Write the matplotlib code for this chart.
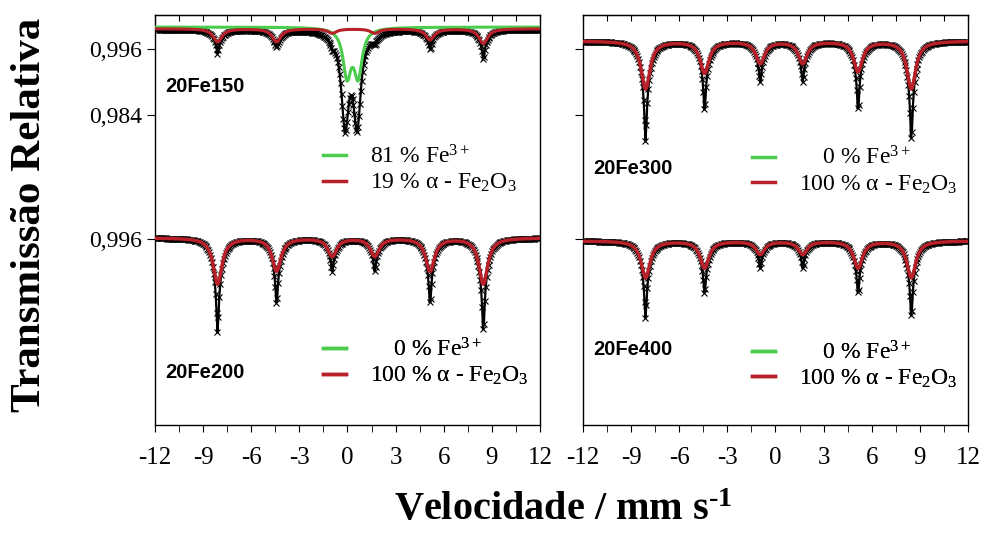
import numpy as np
import matplotlib
matplotlib.use('Agg')
import matplotlib.pyplot as plt
from matplotlib.lines import Line2D
from matplotlib.ticker import MultipleLocator

plt.rcParams['font.family'] = 'Liberation Serif'
plt.rcParams['mathtext.fontset'] = 'custom'
plt.rcParams['mathtext.rm'] = 'Liberation Serif'
plt.rcParams['mathtext.it'] = 'Liberation Serif:italic'
plt.rcParams['mathtext.bf'] = 'Liberation Serif:bold'
plt.rcParams['axes.unicode_minus'] = False

# velocidade dos canais (mm/s)
vel = np.linspace(-12, 12, 420)

# posicoes das linhas do sexteto (hematita) e do dubleto Fe3+
sext_pos = [-8.1, -4.42, -0.95, 1.7, 5.15, 8.47]
doub_pos_data = [-0.15, 0.6]
doub_pos_fit = [-0.03, 0.66]

# linha de base de cada espectro
base_150 = 0.9996
base_200 = 0.9962
base_300 = 0.99745
base_400 = 0.99564
offset = 0.0346          # deslocamento dos espectros de baixo

# profundidades (ajuste = vermelho, dados = preto)
fit_150 = [0.0024, 0.0024, 0.0008, 0.0008, 0.0020, 0.0027]
data_150 = [0.0044, 0.0031, 0.0015, 0.0015, 0.0035, 0.0055]
fe3_fit_150 = 0.0085
fe3_data_150 = 0.0166

fit_200 = [0.0084, 0.0060, 0.0033, 0.0033, 0.0060, 0.0084]
data_200 = [0.0172, 0.0120, 0.0060, 0.0060, 0.0120, 0.0172]

fit_300 = [0.0087, 0.0058, 0.0040, 0.0040, 0.0055, 0.0087]
data_300 = [0.0182, 0.0127, 0.0073, 0.0073, 0.0127, 0.0182]

fit_400 = [0.0067, 0.0049, 0.0024, 0.0024, 0.0049, 0.0067]
data_400 = [0.0140, 0.0096, 0.0049, 0.0049, 0.0096, 0.0140]

w_fit = 0.33
w_spike = 0.08

legend_150 = ['81 % Fe$^{3+}$', '19 % \u03b1 - Fe$_2$O$_3$']
legend_100 = ['    0 % Fe$^{3+}$', '100 % \u03b1 - Fe$_2$O$_3$']

green = '#4ccc4c'
red = '#b8202a'


def lor(x, pos, depth, w):
    y = np.zeros_like(x)
    for p, d in zip(pos, depth):
        y += d / (1 + ((x - p) / w) ** 2)
    return y


def sextet(base, fit, data):
    fit_curve = base - lor(vel, sext_pos, fit, w_fit)
    extra = [d - f for d, f in zip(data, fit)]
    data_curve = fit_curve - lor(vel, sext_pos, extra, w_spike)
    return fit_curve, data_curve


def add_legend(ax, labels, x, y):
    handles = [Line2D([], [], color=green, lw=2.5),
               Line2D([], [], color=red, lw=2.5)]
    leg = ax.legend(handles, labels, loc='upper left', bbox_to_anchor=(x, y),
                    frameon=False, fontsize=17, handlelength=1.0,
                    handletextpad=1.0, labelspacing=0.15, borderpad=0,
                    borderaxespad=0)
    ax.add_artist(leg)


def draw_data(ax, y):
    ax.plot(vel, y, color='black', lw=1.6, zorder=2)
    ax.plot(vel, y, ls='none', marker='x', ms=5, mew=0.8, color='black', zorder=2)


fig = plt.figure(figsize=(9.83, 5.33), dpi=100)
ax1 = fig.add_axes([0.1577, 0.2026, 0.3916, 0.7693])
ax2 = fig.add_axes([0.5931, 0.2026, 0.3916, 0.7693])

# 20Fe150
fe3_curve = 1.0 - lor(vel, doub_pos_fit, [fe3_fit_150] * 2, 0.3)
hem_fit, _ = sextet(base_150 + 0.0001, fit_150, fit_150)
_, sext_data = sextet(base_150, fit_150, data_150)
d150 = sext_data - lor(vel, doub_pos_data, [fe3_data_150] * 2, 0.28)
draw_data(ax1, d150)
ax1.plot(vel, fe3_curve, color=green, lw=2.2, zorder=3)
ax1.plot(vel, hem_fit, color=red, lw=2.2, zorder=3)

# 20Fe200
f200, d200 = sextet(base_200, fit_200, data_200)
draw_data(ax1, d200 - offset)
ax1.plot(vel, f200 - offset, color=red, lw=2.5, zorder=3)

# 20Fe300
f300, d300 = sextet(base_300, fit_300, data_300)
draw_data(ax2, d300)
ax2.plot(vel, f300, color=red, lw=2.5, zorder=3)

# 20Fe400
f400, d400 = sextet(base_400, fit_400, data_400)
draw_data(ax2, d400 - offset)
ax2.plot(vel, f400 - offset, color=red, lw=2.5, zorder=3)

for ax in (ax1, ax2):
    ax.set_xlim(-12, 12)
    ax.set_ylim(0.9275, 1.0022)
    ax.xaxis.set_major_locator(MultipleLocator(3))
    ax.xaxis.set_minor_locator(MultipleLocator(1.5))
    ax.tick_params(axis='x', which='both', direction='out', length=5,
                   top=False, labelsize=18, pad=11)
    ax.tick_params(axis='y', direction='out', length=6, labelsize=17, right=False)
    ax.set_yticks([0.996, 0.984, 0.996 - offset])
    for s in ax.spines.values():
        s.set_linewidth(1.0)
    # ticks internos no topo
    sec = ax.secondary_xaxis('top')
    sec.xaxis.set_major_locator(MultipleLocator(1.5))
    sec.tick_params(direction='in', length=4, labeltop=False)

ax1.set_yticklabels(['0,996', '0,984', '0,996'])
ax2.set_yticklabels([])

names = [(ax1, '20Fe150', 0.826), (ax1, '20Fe200', 0.127),
         (ax2, '20Fe300', 0.625), (ax2, '20Fe400', 0.183)]
for ax, name, yy in names:
    ax.text(0.027, yy, name, transform=ax.transAxes, family='Liberation Sans',
            weight='bold', fontsize=14.5, va='center')

add_legend(ax1, legend_150, 0.436, 0.682)
add_legend(ax1, legend_100, 0.436, 0.212)
add_legend(ax2, legend_100, 0.438, 0.679)
add_legend(ax2, legend_100, 0.438, 0.205)

fig.text(0.031, 0.597, 'Transmissão Relativa', rotation=90, ha='center',
         va='center', fontsize=31, weight='bold')
fig.text(0.573, 0.043, 'Velocidade / mm s$^{\\mathbf{\u20101}}$', ha='center',
         va='center', fontsize=29, weight='bold')

fig.savefig('out.png', dpi=100, facecolor='white')
